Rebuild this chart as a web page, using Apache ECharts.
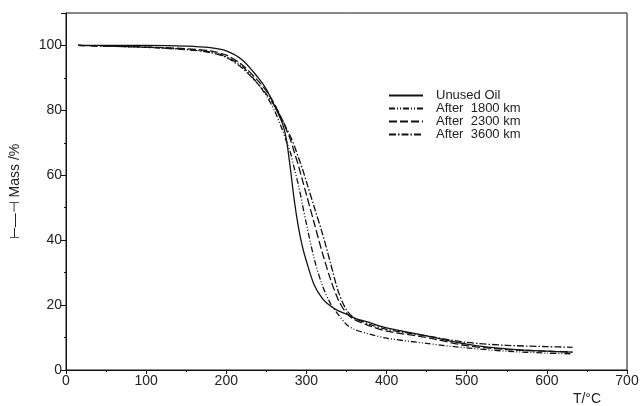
<!DOCTYPE html>
<html>
<head>
<meta charset="utf-8">
<script src="https://cdn.jsdelivr.net/npm/echarts@6/dist/echarts.min.js"></script>
<style>
  html, body { margin: 0; padding: 0; background: #fff; }
  #chart { width: 644px; height: 406px; }
</style>
</head>
<body>
<div id="chart"></div>
<script>
// temperature points (°C) shared by all curves
const temps = [15, 50, 100, 150, 180, 200, 220, 240, 250, 260, 270, 275, 280, 285, 290, 295, 300, 310, 320, 330, 340, 350, 360, 380, 400, 450, 500, 550, 600, 632]

// mass (%)
const unusedOil = [100, 100, 100, 99.8, 99.3, 98.3, 95.5, 90, 86.5, 81.5, 76, 71, 62, 52, 44, 38, 33.5, 26, 22, 19.7, 18.2, 17.2, 16, 14.5, 13, 10.5, 8, 6.5, 5.8, 5.5]
const after1800 = [100, 99.8, 99.5, 98.8, 98, 96.5, 93.5, 88, 84.5, 80, 74, 70.5, 67, 62, 57, 51, 45, 34, 26, 20.5, 17, 14, 12.5, 11, 9.8, 8.2, 6.8, 5.8, 5.2, 5.0]
const after2300 = [100, 99.8, 99.5, 99, 98.3, 97, 94, 89, 86, 82, 77, 74, 71, 67, 63, 58.5, 54, 45, 36, 28, 21.5, 17.5, 15.5, 13.5, 12, 10, 7.5, 6.3, 5.8, 5.5]
const after3600 = [100, 99.8, 99.4, 98.7, 97.8, 96.3, 93, 88, 85, 81.5, 77, 74.5, 72, 69, 65.5, 62, 58, 50, 42, 33, 24, 18.5, 16, 14, 12.5, 10.5, 8.5, 7.6, 7.2, 7.0]

const seriesNames = ['Unused Oil', 'After  1800 km', 'After  2300 km', 'After  3600 km']
const seriesValues = [unusedOil, after1800, after2300, after3600]
const dashTypes = ['solid', [6, 2, 1, 2, 1, 2], [8, 3], [7, 2, 1.5, 2]]

const xTicks = [0, 100, 200, 300, 400, 500, 600, 700]
const yTicks = [0, 20, 40, 60, 80, 100]

const chart = echarts.init(document.getElementById('chart'))

const labelFont = 'Liberation Sans, Arial, sans-serif'

chart.setOption({
  animation: false,
  backgroundColor: '#fff',
  grid: {
    left: 66,
    top: 13,
    width: 561,
    height: 358,
    show: true,
    borderColor: '#111',
    borderWidth: 1
  },
  legend: {
    orient: 'vertical',
    left: 383,
    top: 84,
    itemWidth: 34,
    itemHeight: 10,
    itemGap: 0,
    data: seriesNames,
    itemStyle: { opacity: 0 },
    textStyle: {
      color: '#222',
      fontSize: 13,
      lineHeight: 13,
      fontFamily: labelFont,
      padding: [0, 0, 0, 8]
    }
  },
  xAxis: {
    type: 'value',
    min: xTicks[0],
    max: xTicks[xTicks.length - 1],
    interval: 100,
    name: 'T/°C',
    nameLocation: 'end',
    nameGap: -40,
    nameTextStyle: {
      color: '#222',
      fontSize: 14,
      fontFamily: labelFont,
      align: 'center',
      verticalAlign: 'top',
      padding: [22, 0, 0, 0]
    },
    axisLine: { lineStyle: { color: '#111', width: 1 } },
    axisTick: { length: 4, lineStyle: { color: '#111' } },
    minorTick: { show: true, splitNumber: 2, length: 2, lineStyle: { color: '#111' } },
    axisLabel: {
      color: '#222',
      fontSize: 14,
      fontFamily: labelFont,
      margin: 4
    },
    splitLine: { show: false }
  },
  yAxis: {
    type: 'value',
    min: yTicks[0],
    max: 110,
    interval: 20,
    name: '⊢—⊣ Mass /%',
    nameLocation: 'middle',
    nameGap: 44,
    nameTextStyle: {
      color: '#222',
      fontSize: 14,
      fontFamily: labelFont
    },
    axisLine: { lineStyle: { color: '#111', width: 1 } },
    axisTick: { length: 5, lineStyle: { color: '#111' } },
    minorTick: { show: true, splitNumber: 2, length: 2, lineStyle: { color: '#111' } },
    axisLabel: {
      color: '#222',
      fontSize: 14,
      fontFamily: labelFont,
      margin: 4,
      showMaxLabel: false
    },
    splitLine: { show: false }
  },
  series: seriesNames.map((name, i) => ({
    name,
    type: 'line',
    symbol: 'none',
    smooth: 0.3,
    data: temps.map((t, j) => [t, seriesValues[i][j]]),
    lineStyle: {
      color: '#111',
      width: 1.3,
      type: dashTypes[i]
    },
    itemStyle: { color: '#111' }
  }))
})
</script>
</body>
</html>
